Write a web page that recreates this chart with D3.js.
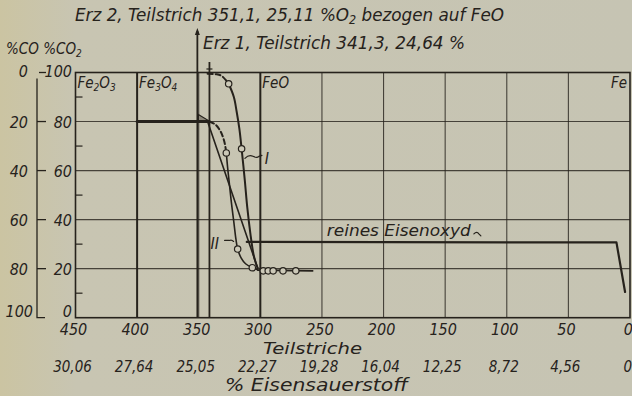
<!DOCTYPE html>
<html>
<head>
<meta charset="utf-8">
<script src="https://cdn.jsdelivr.net/npm/d3@7"></script>
<style>
	body { margin: 0; background: #c7c5b3; }
	svg { display: block; }
	text { font-family: "Liberation Sans Narrow", "DejaVu Sans Condensed", sans-serif; font-style: italic; fill: #26221c; }
</style>
</head>
<body>
<svg id="chart" width="632" height="396"></svg>
<script>

// Teilstriche (unten, 1. Zeile) und % Eisensauerstoff (2. Zeile)
var teilstriche = [450, 400, 350, 300, 250, 200, 150, 100, 50, 0];
var sauerstoff = ["30,06", "27,64", "25,05", "22,27", "19,28", "16,04", "12,25", "8,72", "4,56", "0"];

// linke Achsen: %CO und %CO2 (gegenlaeufig)
var coWerte = [0, 20, 40, 60, 80, 100];
var co2Werte = [100, 80, 60, 40, 20, 0];
var feinTicks = [90, 70, 50, 30, 10];

// Phasen oben im Diagramm
var phasen = [
	{ name: ["Fe", "2", "O", "3"], t: 450 },
	{ name: ["Fe", "3", "O", "4"], t: 400 },
	{ name: ["FeO"], t: 300 },
	{ name: ["Fe"], t: 0 }
];

// Erz 2 und Erz 1 (Teilstrich)
var erzLinien = [351.1, 341.3];

// Kurve I  [Teilstrich, %CO2]
var kurveIGestrichelt = [[342.8, 99.5], [336, 99.3], [331.4, 98.6], [325.7, 95.4]];
var kurveI = [[325.7, 95.4], [321.5, 90], [319.2, 84], [317, 77], [315.2, 68.9], [312.6, 56], [310.6, 45], [308, 34], [305.6, 26], [303.6, 22.2], [302.2, 20.3]];
var kurveIMarker = [[325.7, 95.4], [315.2, 68.9]];

// Kurve II
var fe3o4Stufe = [[400, 80], [341.5, 80]];
var kurveIIGestrichelt = [[341.5, 80], [336.5, 78.8], [332.3, 76], [329.3, 72], [327.6, 67.2]];
var kurveII = [[327.6, 67.2], [326.5, 61], [325.2, 55], [323.5, 47], [321.5, 39], [319.8, 32], [318.4, 28], [315.5, 24.3], [312, 22], [306.5, 20.4], [302.2, 19.6]];
var kurveIIMarker = [[327.6, 67.2], [318.4, 28], [306.5, 20.4]];
var gerade = [[342.8, 80], [302.2, 20.3]];

// FeO-Auslauf mit Messpunkten
var feoAuslauf = [[302.2, 19.4], [257.5, 19.1]];
var feoMarker = [[297.6, 19.1], [293.6, 19.1], [289.6, 19.1], [281.6, 19.1], [271.2, 19.1]];

// reines Eisenoxyd
var reinesEisenoxyd = [[311, 30.9], [11, 30.7], [4, 10.5]];


var ink = "#26221c";
var svg = d3.select("#chart");

var x = d3.scaleLinear().domain([450, 0]).range([75.5, 630]);
var y = d3.scaleLinear().domain([0, 100]).range([317.7, 72.5]);

var line = d3.line()
	.x(function(d) { return x(d[0]); })
	.y(function(d) { return y(d[1]); });

var glatt = d3.line()
	.x(function(d) { return x(d[0]); })
	.y(function(d) { return y(d[1]); })
	.curve(d3.curveCatmullRom.alpha(0.5));

// leichte Vergilbung am linken Rand
var defs = svg.append("defs");
var grad = defs.append("linearGradient").attr("id", "papier");
grad.append("stop").attr("offset", "0").attr("stop-color", "#cbc4a2");
grad.append("stop").attr("offset", "0.12").attr("stop-color", "#c8c5b2");
grad.append("stop").attr("offset", "1").attr("stop-color", "#c6c4b3");
svg.append("rect").attr("width", 632).attr("height", 396).attr("fill", "url(#papier)");

// ---- Gitter
var grid = svg.append("g");

grid.selectAll(".h").data(coWerte.slice(1, 5))
	.enter().append("line")
	.attr("x1", x(450)).attr("x2", x(0))
	.attr("y1", function(d) { return y(d); })
	.attr("y2", function(d) { return y(d); })
	.attr("stroke", ink).attr("stroke-width", 1.1).attr("opacity", 0.8);

grid.selectAll(".v").data(teilstriche.slice(1, 9))
	.enter().append("line")
	.attr("x1", function(d) { return x(d); })
	.attr("x2", function(d) { return x(d); })
	.attr("y1", y(100)).attr("y2", y(0))
	.attr("stroke", ink)
	.attr("stroke-width", function(d) { return (d == 400 || d == 300) ? 2 : 1.1; })
	.attr("opacity", function(d) { return (d == 400 || d == 300) ? 1 : 0.8; });

// feine Teilung am linken Rand
grid.selectAll(".fein").data(feinTicks)
	.enter().append("line")
	.attr("x1", x(450)).attr("x2", x(450) + 7)
	.attr("y1", function(d) { return y(d); })
	.attr("y2", function(d) { return y(d); })
	.attr("stroke", ink).attr("stroke-width", 1.2);

// Rahmen
svg.append("rect")
	.attr("x", x(450)).attr("y", y(100))
	.attr("width", x(0) - x(450)).attr("height", y(0) - y(100))
	.attr("fill", "none").attr("stroke", ink).attr("stroke-width", 1.6);

// Erz-Linien, ragen nach oben hinaus
svg.append("line")
	.attr("x1", x(erzLinien[0])).attr("x2", x(erzLinien[0]))
	.attr("y1", 31).attr("y2", y(0))
	.attr("stroke", ink).attr("stroke-width", 1.8);
svg.append("path")
	.attr("d", "M" + x(erzLinien[0]) + ",28 l-2.5,7 l5,0 z")
	.attr("fill", ink);

svg.append("line")
	.attr("x1", x(erzLinien[1])).attr("x2", x(erzLinien[1]))
	.attr("y1", 62).attr("y2", y(0))
	.attr("stroke", ink).attr("stroke-width", 1.8);
svg.append("line")
	.attr("x1", x(erzLinien[1]) - 3).attr("x2", x(erzLinien[1]) + 3)
	.attr("y1", 69).attr("y2", 69)
	.attr("stroke", ink).attr("stroke-width", 1.2);

// ---- linke Achsen
var achseX = 37;
svg.append("path")
	.attr("d", "M" + achseX + "," + (y(100) + 6) + " L" + achseX + "," + y(0) + " L" + (achseX + 8) + "," + y(0))
	.attr("fill", "none").attr("stroke", ink).attr("stroke-width", 1.3);

svg.selectAll(".coTick").data(coWerte.slice(0, 5))
	.enter().append("line")
	.attr("x1", function(d) { return d == 0 ? achseX + 2 : achseX; })
	.attr("x2", achseX + 9)
	.attr("y1", function(d) { return y(100 - d); })
	.attr("y2", function(d) { return y(100 - d); })
	.attr("stroke", ink).attr("stroke-width", 1.3);

// Grundlinie der Zahlen: oben etwas tiefer, unten angehoben
function zahlY(v)
{
	if (v == 100) return y(v) + 4.5;
	if (v == 0) return y(v) - 1.2;
	return y(v) + 6;
}

svg.selectAll(".coLabel").data(coWerte)
	.enter().append("text")
	.attr("x", function(d) { return d == 100 ? 33 : 28; })
	.attr("y", function(d) { return zahlY(100 - d); })
	.attr("text-anchor", "end")
	.attr("font-size", 16)
	.text(function(d) { return d; });

svg.selectAll(".co2Label").data(co2Werte)
	.enter().append("text")
	.attr("x", 72)
	.attr("y", function(d) { return zahlY(d); })
	.attr("text-anchor", "end")
	.attr("font-size", 16)
	.text(function(d) { return d; });

var kopf = svg.append("text").attr("x", 6).attr("y", 54).attr("font-size", 15);
kopf.append("tspan").text("%CO %CO");
kopf.append("tspan").attr("font-size", 10).attr("dy", 3).text("2");

// ---- untere Achse
svg.selectAll(".tLabel").data(teilstriche)
	.enter().append("text")
	.attr("x", function(d) { return x(d) - 2; })
	.attr("y", 335)
	.attr("text-anchor", function(d) { return d == 0 ? "end" : "middle"; })
	.attr("dx", function(d) { return d == 0 ? 5 : 0; })
	.attr("font-size", 16)
	.text(function(d) { return d; });

svg.selectAll(".oLabel").data(sauerstoff)
	.enter().append("text")
	.attr("x", function(d, i) { return x(teilstriche[i]) - 3; })
	.attr("y", 371.5)
	.attr("text-anchor", function(d, i) { return i == sauerstoff.length - 1 ? "end" : "middle"; })
	.attr("dx", function(d, i) { return i == sauerstoff.length - 1 ? 5 : 0; })
	.attr("font-size", 15)
	.text(function(d) { return d; });

svg.append("text").attr("x", 263).attr("y", 353.5).attr("font-size", 16)
	.attr("textLength", 99).attr("lengthAdjust", "spacingAndGlyphs")
	.text("Teilstriche");
svg.append("text").attr("x", 225).attr("y", 391).attr("font-size", 17)
	.attr("textLength", 183).attr("lengthAdjust", "spacingAndGlyphs")
	.text("% Eisensauerstoff");

// ---- Ueberschriften
var t1 = svg.append("text").attr("x", 75).attr("y", 21).attr("font-size", 18)
	.attr("textLength", 429).attr("lengthAdjust", "spacingAndGlyphs");
t1.append("tspan").text("Erz 2, Teilstrich 351,1, 25,11 %O");
t1.append("tspan").attr("font-size", 12).attr("dy", 3).text("2");
t1.append("tspan").attr("dy", -3).text(" bezogen auf FeO");

svg.append("text").attr("x", 203).attr("y", 49).attr("font-size", 18)
	.attr("textLength", 262).attr("lengthAdjust", "spacingAndGlyphs")
	.text("Erz 1, Teilstrich 341,3, 24,64 %");

// Phasen
phasen.forEach(function(p)
{
	var txt = svg.append("text")
		.attr("x", p.t == 0 ? x(p.t) - 3 : x(p.t) + 2)
		.attr("y", 88)
		.attr("font-size", 15)
		.attr("text-anchor", p.t == 0 ? "end" : "start");
	for (var i = 0; i < p.name.length; i++)
	{
		if (i % 2 == 1)
			txt.append("tspan").attr("font-size", 10).attr("dy", 3).text(p.name[i]);
		else
			txt.append("tspan").attr("dy", i > 0 ? -3 : 0).text(p.name[i]);
	}
});

// ---- Kurven
var kurven = svg.append("g").attr("fill", "none").attr("stroke", ink).attr("stroke-linecap", "round");

kurven.append("path").attr("d", line(fe3o4Stufe)).attr("stroke-width", 3);
kurven.append("path").attr("d", glatt(kurveIGestrichelt)).attr("stroke-width", 2).attr("stroke-dasharray", "5,3");
kurven.append("path").attr("d", glatt(kurveI)).attr("stroke-width", 2);
kurven.append("path").attr("d", glatt(kurveIIGestrichelt)).attr("stroke-width", 2).attr("stroke-dasharray", "5,3");
kurven.append("path").attr("d", glatt(kurveII)).attr("stroke-width", 1.6);
kurven.append("path").attr("d", line(gerade)).attr("stroke-width", 1.6);
kurven.append("path").attr("d", line(feoAuslauf)).attr("stroke-width", 1.6);
kurven.append("path").attr("d", line(reinesEisenoxyd)).attr("stroke-width", 2.2).attr("stroke-linejoin", "round");

// kleines Dreieck oben an der Fe3O4-Stufe
kurven.append("path")
	.attr("d", "M" + (x(erzLinien[0]) + 1) + "," + (y(80) - 7) + " L" + (x(erzLinien[1]) - 1) + "," + (y(80) - 1) + " L" + (x(erzLinien[0]) + 1) + "," + (y(80) - 1) + "z")
	.attr("stroke-width", 1.2).attr("fill", "#8d887a");

var marker = kurveIMarker.concat(kurveIIMarker).concat(feoMarker);
svg.selectAll(".mk").data(marker)
	.enter().append("circle")
	.attr("cx", function(d) { return x(d[0]); })
	.attr("cy", function(d) { return y(d[1]); })
	.attr("r", 3.2)
	.attr("fill", "#ccc9b8").attr("stroke", ink).attr("stroke-width", 1.2);

// Beschriftung I und II
kurven.append("path")
	.attr("d", "M" + x(312.5) + "," + y(65) + " q4,-4 8,-2 t6,0 l3,-1")
	.attr("stroke-width", 1.2);
svg.append("text").attr("x", x(296.5)).attr("y", y(62.5)).attr("font-size", 16)
	.attr("font-family", "Liberation Serif, serif").text("I");

kurven.append("path")
	.attr("d", "M" + x(329) + "," + y(31.5) + " l5,0 q2,-1 4,1")
	.attr("stroke-width", 1.2);
svg.append("text").attr("x", x(340.5)).attr("y", y(28)).attr("font-size", 16)
	.attr("font-family", "Liberation Serif, serif").text("II");

svg.append("text").attr("x", x(246)).attr("y", y(33.4)).attr("font-size", 16)
	.attr("textLength", 144).attr("lengthAdjust", "spacingAndGlyphs")
	.text("reines Eisenoxyd");
kurven.append("path")
	.attr("d", "M" + (x(246) + 147) + "," + (y(33.4) - 2) + " q3,-3 5,0 l2,2")
	.attr("stroke-width", 1.2);

</script>
</body>
</html>
